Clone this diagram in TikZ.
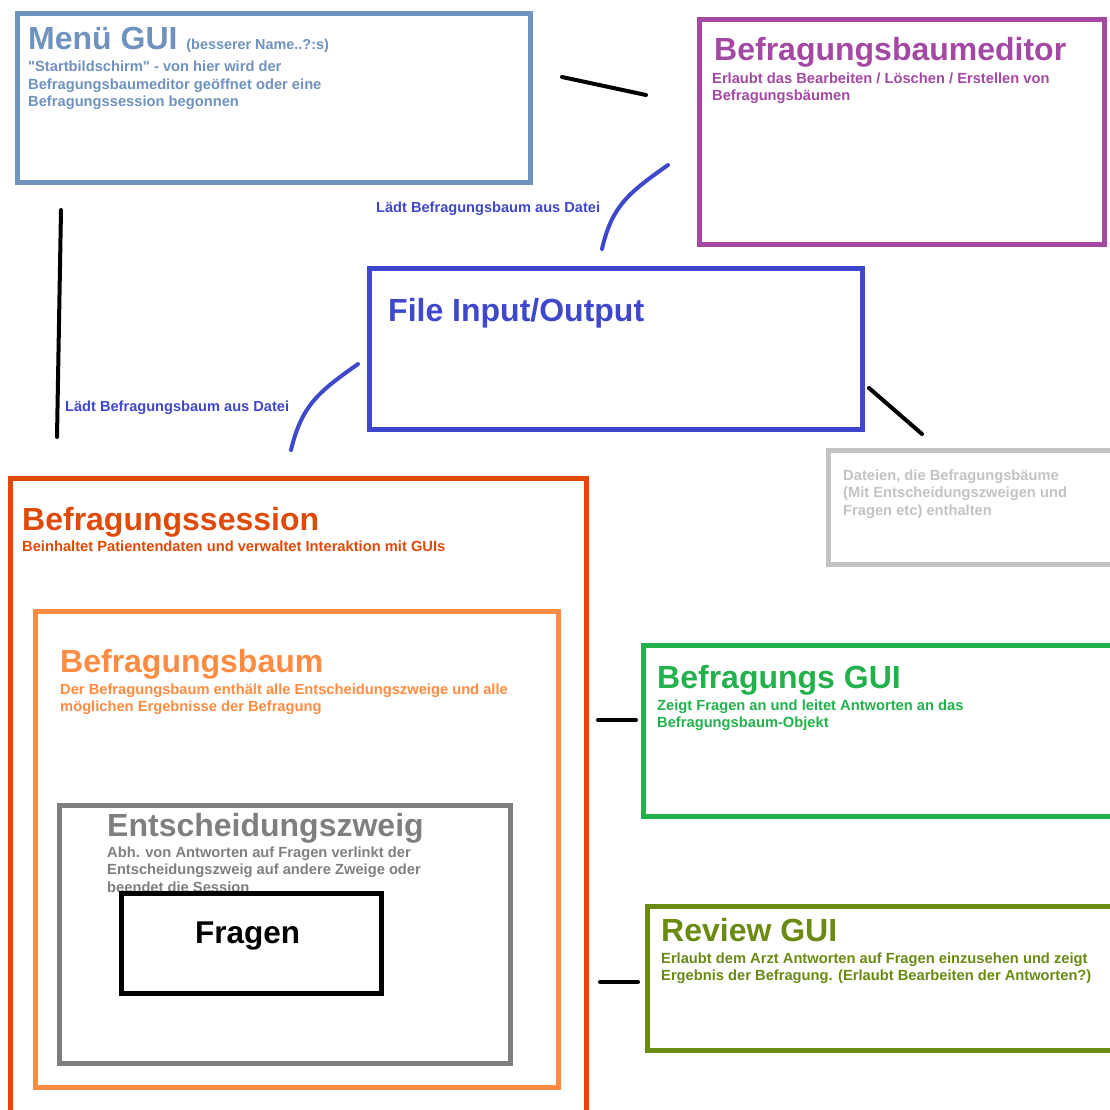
\documentclass[tikz,border=0pt]{standalone}
\usepackage{fontspec}
\setmainfont{Liberation Sans}
\definecolor{menucol}{HTML}{7092BE}
\definecolor{editcol}{HTML}{A349A4}
\definecolor{filecol}{HTML}{3F48CC}
\definecolor{datacol}{HTML}{C3C3C3}
\definecolor{sesscol}{HTML}{DF4A08}
\definecolor{baumcol}{HTML}{FF8C42}
\definecolor{zweigcol}{HTML}{7F7F7F}
\definecolor{guicol}{HTML}{22B14C}
\definecolor{revcol}{HTML}{6B8A12}
\newcommand{\infolines}[1]{\begin{tabular}[t]{@{}l@{}}#1\end{tabular}}
\tikzset{
  box/.style={draw=#1,line width=5pt,rectangle,anchor=north west,
    inner sep=0pt,outer sep=0pt},
  title/.style={anchor=base west,inner sep=0pt,
    font=\fontsize{32}{36}\selectfont\bfseries},
  info/.style={anchor=base west,inner sep=0pt,
    font=\fontsize{14.7}{17.7}\selectfont\bfseries},
  link/.style={line width=4pt,line cap=round},
}
\begin{document}
\begin{tikzpicture}[x=1pt,y=-1pt]
  \clip (0,0) rectangle (1110,1109);
  \fill[white] (0,0) rectangle (1110,1109);
  % Menue
  \node[box=menucol,minimum width=513pt,minimum height=169pt] (menu)
    at (17.5,13.5) {};
  \node[title,text=menucol] (menuT) at (28,49)
    {Menü GUI {\fontsize{14.4}{16}\selectfont(besserer Name..?:s)}};
  \node[info,text=menucol] (menuI) at (28,71.5)
    {\infolines{\textquotedbl Startbildschirm\textquotedbl{} - von hier wird der\\
    Befragungsbaumeditor geöffnet oder eine\\
    Befragungssession begonnen}};
  % Editor
  \node[box=editcol,minimum width=405pt,minimum height=225pt] (editor)
    at (699.5,19.5) {};
  \node[title,text=editcol] (editorT) at (714,60) {Befragungsbaumeditor};
  \node[info,text=editcol] (editorI) at (712,83)
    {\infolines{Erlaubt das Bearbeiten / Löschen / Erstellen von\\
    Befragungsbäumen}};
  % File IO
  \node[box=filecol,minimum width=493pt,minimum height=161pt] (fileio)
    at (369.5,268.5) {};
  \node[title,text=filecol] (fileioT) at (388,321) {File Input/Output};
  % Dateien
  \node[box=datacol,minimum width=320pt,minimum height=114pt] (files)
    at (828.5,450.5) {};
  \node[info,text=datacol] (filesI) at (843,480)
    {\infolines{Dateien, die Befragungsbäume\\
    (Mit Entscheidungszweigen und\\
    Fragen etc) enthalten}};
  % Session
  \node[box=sesscol,minimum width=576pt,minimum height=700pt] (session)
    at (10.5,478.5) {};
  \node[title,text=sesscol] (sessionT) at (22,530) {Befragungssession};
  \node[info,text=sesscol] (sessionI) at (22,551)
    {Beinhaltet Patientendaten und verwaltet Interaktion mit GUIs};
  % Baum
  \node[box=baumcol,minimum width=523pt,minimum height=476pt] (baum)
    at (35.5,611.5) {};
  \node[title,text=baumcol] (baumT) at (60,672) {Befragungsbaum};
  \node[info,text=baumcol] (baumI) at (60,694)
    {\infolines{Der Befragungsbaum enthält alle Entscheidungszweige und alle\\
    möglichen Ergebnisse der Befragung}};
  % Zweig
  \node[box=zweigcol,minimum width=451pt,minimum height=258pt] (zweig)
    at (59.5,805.5) {};
  \node[title,text=zweigcol] (zweigT) at (107,836) {Entscheidungszweig};
  \node[info,text=zweigcol] (zweigI) at (107,857)
    {\infolines{Abh. von Antworten auf Fragen verlinkt der\\
    Entscheidungszweig auf andere Zweige oder\\
    beendet die Session}};
  % Fragen
  \node[box=black,fill=white,minimum width=260pt,minimum height=100pt] (fragen)
    at (121.5,893.5) {};
  \node[anchor=base west,inner sep=0pt,font=\fontsize{31.5}{36}\selectfont\bfseries]
    (fragenT) at (195,943) {Fragen};
  % GUIs
  \node[box=guicol,minimum width=500pt,minimum height=171pt] (befgui)
    at (643.5,645.5) {};
  \node[title,text=guicol] (befguiT) at (657,688) {Befragungs GUI};
  \node[info,text=guicol] (befguiI) at (657,710)
    {\infolines{Zeigt Fragen an und leitet Antworten an das\\
    Befragungsbaum-Objekt}};
  \node[box=revcol,minimum width=500pt,minimum height=144pt] (review)
    at (647.5,906.5) {};
  \node[title,text=revcol] (reviewT) at (661,941) {Review GUI};
  \node[info,text=revcol] (reviewI) at (661,963)
    {\infolines{Erlaubt dem Arzt Antworten auf Fragen einzusehen und zeigt\\
    Ergebnis der Befragung. (Erlaubt Bearbeiten der Antworten?)}};
  % Verbindungen
  \coordinate (menuE) at (562,77);
  \coordinate (editorM) at (646,95);
  \coordinate (editorF) at (668,165);
  \coordinate (fileioE) at (602,249);
  \coordinate (fileioS) at (358,364);
  \coordinate (sessionF) at (291,450);
  \coordinate (menuS) at (61,210);
  \coordinate (sessionM) at (57,437);
  \coordinate (fileioD) at (869,388);
  \coordinate (filesF) at (922,434);
  \coordinate (baumG) at (598,720);
  \coordinate (befguiB) at (636,720);
  \coordinate (baumR) at (600,982);
  \coordinate (reviewB) at (638,982);
  \draw[link] (menuE) -- (editorM);
  \draw[link] (menuS) -- (sessionM);
  \draw[link] (fileioD) -- (filesF);
  \draw[link] (baumG) -- (befguiB);
  \draw[link] (baumR) -- (reviewB);
  \draw[link,filecol] (editorF) .. controls (630,192) and (612,205) .. (fileioE);
  \draw[link,filecol] (fileioS) .. controls (320,391) and (302,404) .. (sessionF);
  \node[anchor=base west,inner sep=0pt,text=filecol,
    font=\fontsize{14.6}{16}\selectfont\bfseries] (lade1) at (376,212)
    {Lädt Befragungsbaum aus Datei};
  \node[anchor=base west,inner sep=0pt,text=filecol,
    font=\fontsize{14.6}{16}\selectfont\bfseries] (lade2) at (65,411)
    {Lädt Befragungsbaum aus Datei};
\end{tikzpicture}
\end{document}
